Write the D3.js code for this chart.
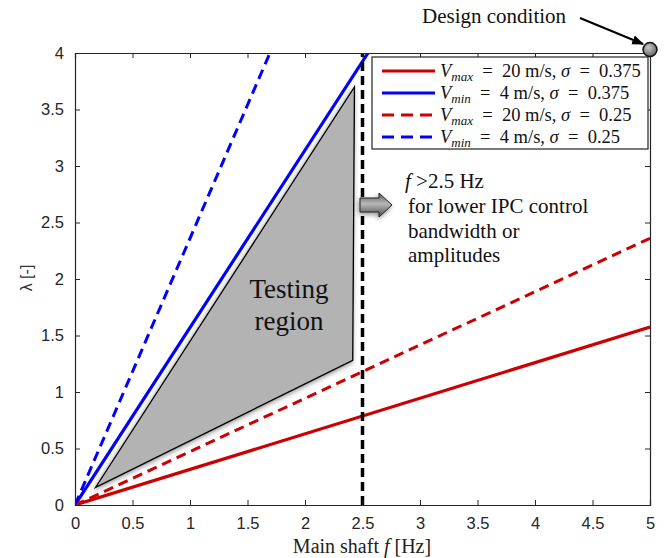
<!DOCTYPE html>
<html><head><meta charset="utf-8">
<script src="https://cdn.jsdelivr.net/npm/d3@7"></script>
<style>html,body{margin:0;padding:0;background:#fff;}svg{display:block;}</style>
</head><body>
<script>
// ---- data ----
const xTicks = [0,0.5,1,1.5,2,2.5,3,3.5,4,4.5,5];
const yTicks = [0,0.5,1,1.5,2,2.5,3,3.5,4];
const seriesNames = ["Vmax20_s0375","Vmin4_s0375","Vmax20_s025","Vmin4_s025"];
const seriesColors = ["#cc0000","#0000ff","#cc0000","#0000ff"];
const seriesDashed = [false,false,true,true];
const seriesSub = ["max","min","max","min"];
const seriesSpeed = ["20","4","20","4"];
const seriesSigma = ["0.375","0.375","0.25","0.25"];
const seriesPoints = [
  [[0,0],[5,1.575]],
  [[0,0],[2.548,4]],
  [[0,0],[5,2.36]],
  [[0,0],[1.695,4]]
];
const testingRegion = [[0.18,0.157],[2.43,3.70],[2.415,1.28]];
const limitF = 2.5;
const designPoint = [5,4.03];

const W=667,H=558;
const L=75,R=650,T=53,B=505;
const x=d3.scaleLinear().domain([0,5]).range([L,R]);
const y=d3.scaleLinear().domain([0,4]).range([B,T]);

const svg=d3.select("body").append("svg").attr("width",W).attr("height",H);
const defs=svg.append("defs");
defs.append("clipPath").attr("id","clip").append("rect").attr("x",L).attr("y",T).attr("width",R-L).attr("height",B-T);
const sh=defs.append("filter").attr("id","shadow").attr("x","-20%").attr("y","-20%").attr("width","140%").attr("height","140%");
sh.append("feGaussianBlur").attr("in","SourceAlpha").attr("stdDeviation",2.5).attr("result","b");
sh.append("feOffset").attr("in","b").attr("dx",-1).attr("dy",2).attr("result","o");
sh.append("feComponentTransfer").attr("in","o").attr("result","o2").append("feFuncA").attr("type","linear").attr("slope",0.45);
const mg=sh.append("feMerge");mg.append("feMergeNode").attr("in","o2");mg.append("feMergeNode").attr("in","SourceGraphic");
const gr=defs.append("linearGradient").attr("id","arrowGrad").attr("x1",0).attr("y1",0).attr("x2",0).attr("y2",1);
gr.append("stop").attr("offset","0%").attr("stop-color","#5a5a5a");
gr.append("stop").attr("offset","45%").attr("stop-color","#b8b8b8");
gr.append("stop").attr("offset","100%").attr("stop-color","#4a4a4a");
const cg=defs.append("radialGradient").attr("id","dotGrad").attr("cx","40%").attr("cy","35%").attr("r","65%");
cg.append("stop").attr("offset","0%").attr("stop-color","#c8c8c8");
cg.append("stop").attr("offset","100%").attr("stop-color","#666");
defs.append("marker").attr("id","ah").attr("viewBox","0 0 10 10").attr("refX",9).attr("refY",5)
  .attr("markerWidth",6).attr("markerHeight",6).attr("orient","auto")
  .append("path").attr("d","M0,1 L10,5 L0,9 Z").attr("fill","#000");

svg.append("rect").attr("x",L).attr("y",T).attr("width",R-L).attr("height",B-T).attr("fill","#fff");

const plot=svg.append("g").attr("clip-path","url(#clip)");
plot.append("path").attr("d",d3.line().x(d=>x(d[0])).y(d=>y(d[1]))(testingRegion)+"Z")
  .attr("fill","#b3b3b3").attr("stroke","#000").attr("stroke-width",1.3).attr("stroke-linejoin","miter").attr("filter","url(#shadow)");

const line=d3.line().x(d=>x(d[0])).y(d=>y(d[1]));
seriesPoints.forEach((pts,i)=>{
  plot.append("path").attr("d",line(pts)).attr("fill","none")
    .attr("stroke",seriesColors[i]).attr("stroke-width",seriesDashed[i]?3:3.2)
    .attr("stroke-dasharray",seriesDashed[i]?"10,6":null);
});
plot.append("line").attr("x1",x(limitF)).attr("x2",x(limitF)).attr("y1",y(0)).attr("y2",y(4))
  .attr("stroke","#000").attr("stroke-width",3.5).attr("stroke-dasharray","9,5");

const axCol="#262626";
const gx=svg.append("g").attr("transform",`translate(0,${B})`)
  .call(d3.axisBottom(x).tickValues(xTicks).tickFormat(d3.format("")).tickSize(-5).tickPadding(12));
const gy=svg.append("g").attr("transform",`translate(${L},0)`)
  .call(d3.axisLeft(y).tickValues(yTicks).tickFormat(d3.format("")).tickSize(-5).tickPadding(11));
const gxt=svg.append("g").attr("transform",`translate(0,${T})`)
  .call(d3.axisTop(x).tickValues(xTicks).tickFormat("").tickSize(-5));
const gyr=svg.append("g").attr("transform",`translate(${R},0)`)
  .call(d3.axisRight(y).tickValues(yTicks).tickFormat("").tickSize(-5));
[gx,gy,gxt,gyr].forEach(g=>{
  g.select(".domain").attr("stroke",axCol).attr("stroke-width",1.2);
  g.selectAll(".tick line").attr("stroke",axCol);
  g.selectAll("text").attr("font-family","'Liberation Sans',Arial,sans-serif").attr("font-size",16.5).attr("fill",axCol);
});

const serif="'Liberation Serif','Times New Roman',serif";
const xt=svg.append("text").attr("x",362).attr("y",553).attr("text-anchor","middle")
  .attr("font-family",serif).attr("font-size",20).attr("fill","#222");
xt.append("tspan").text("Main shaft ");
xt.append("tspan").attr("font-style","italic").text("f");
xt.append("tspan").text(" [Hz]");
svg.append("text").attr("transform","translate(32,278) rotate(-90)").attr("text-anchor","middle")
  .attr("font-family","'Liberation Sans',Arial,sans-serif").attr("font-size",16).attr("fill","#333").text("λ [-]");

const lg=svg.append("g");
lg.append("rect").attr("x",372).attr("y",57).attr("width",276).attr("height",92).attr("fill","#fff").attr("stroke","#222").attr("stroke-width",1.2);
seriesNames.forEach((n,i)=>{
  const yy=71+i*22;
  lg.append("line").attr("x1",382).attr("x2",435).attr("y1",yy).attr("y2",yy)
    .attr("stroke",seriesColors[i]).attr("stroke-width",3).attr("stroke-dasharray",seriesDashed[i]?"12,7":null);
  const t=lg.append("text").attr("x",440).attr("y",yy+6).attr("font-family",serif)
    .attr("font-size",18.5).attr("fill","#111").attr("xml:space","preserve");
  t.append("tspan").attr("font-style","italic").text("V");
  t.append("tspan").attr("font-style","italic").attr("font-size",13).attr("dy",4).text(seriesSub[i]);
  t.append("tspan").attr("dy",-4).text("  =  "+seriesSpeed[i]+" m/s, ");
  t.append("tspan").attr("font-style","italic").text("σ");
  t.append("tspan").text("  =  "+seriesSigma[i]);
});

const tr=svg.append("text").attr("font-family",serif).attr("font-size",27).attr("fill","#111").attr("text-anchor","middle");
tr.append("tspan").attr("x",289).attr("y",298).text("Testing");
tr.append("tspan").attr("x",289).attr("y",330).text("region");

svg.append("path").attr("d","M360,198 L379,198 L379,193 L392,205 L379,217 L379,212 L360,212 Z")
  .attr("fill","url(#arrowGrad)").attr("stroke","#222").attr("stroke-width",1).attr("filter","url(#shadow)");
const ann=svg.append("text").attr("font-family",serif).attr("font-size",21).attr("fill","#111");
const l1=ann.append("tspan").attr("x",405).attr("y",188);
l1.append("tspan").attr("font-style","italic").text("f");
l1.append("tspan").text(" >2.5 Hz");
ann.append("tspan").attr("x",408).attr("y",213).text("for lower IPC control");
ann.append("tspan").attr("x",408).attr("y",238).text("bandwidth or");
ann.append("tspan").attr("x",408).attr("y",262).text("amplitudes");

svg.append("text").attr("x",422).attr("y",23).attr("font-family",serif).attr("font-size",21).attr("fill","#111").text("Design condition");
svg.append("line").attr("x1",580).attr("y1",18).attr("x2",643).attr("y2",44).attr("stroke","#000").attr("stroke-width",2).attr("marker-end","url(#ah)");
svg.append("circle").attr("cx",x(designPoint[0])).attr("cy",y(designPoint[1])).attr("r",7)
  .attr("fill","url(#dotGrad)").attr("stroke","#111").attr("stroke-width",1.5);
</script>
</body></html>
